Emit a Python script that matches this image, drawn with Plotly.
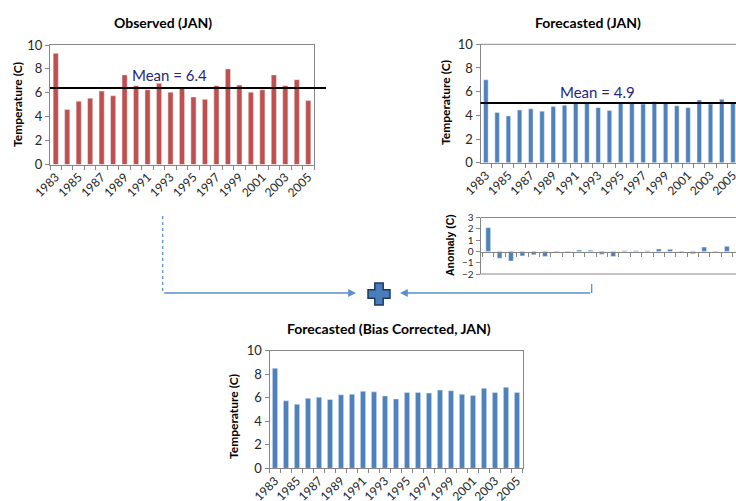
import plotly.graph_objects as go

W, H = 736, 501

years = list(range(1983, 2006))
tick_years = list(range(1983, 2006, 2))
tick_labels = [str(y) for y in tick_years]

observed = [9.3, 4.6, 5.3, 5.55, 6.15, 5.75, 7.5, 6.6, 6.25, 6.8, 6.05, 6.45,
            5.65, 5.45, 6.6, 8.0, 6.65, 6.05, 6.25, 7.5, 6.6, 7.1, 5.35]
forecast = [7.0, 4.25, 3.95, 4.45, 4.55, 4.35, 4.75, 4.85, 5.05, 5.0, 4.65, 4.4,
            5.0, 5.0, 4.95, 5.15, 5.1, 4.8, 4.65, 5.3, 4.95, 5.35, 5.0]
anomaly = [2.1, -0.6, -0.85, -0.4, -0.3, -0.45, -0.15, -0.05, 0.12, 0.1, -0.25, -0.45,
           0.05, 0.05, 0.05, 0.22, 0.18, -0.1, -0.2, 0.38, 0.03, 0.45, 0.1]
corrected = [8.5, 5.75, 5.45, 5.95, 6.05, 5.85, 6.25, 6.3, 6.55, 6.5, 6.15, 5.9,
             6.45, 6.45, 6.4, 6.65, 6.6, 6.3, 6.2, 6.8, 6.45, 6.9, 6.45]

obs_mean_line = 6.41
fc_mean_line = 5.05
obs_mean_label = "Mean = 6.4"
fc_mean_label = "Mean = 4.9"

RED = "#c0504d"
BLUE = "#4f81bd"
GRID = "#868686"
FONT = "Lato"


def px(x):
    return x / W


def py(y):
    return 1 - y / H


fig = go.Figure()

fig.add_trace(go.Bar(x=years, y=observed, marker_color=RED, width=0.45,
                     xaxis="x", yaxis="y", showlegend=False))
fig.add_trace(go.Bar(x=years, y=forecast, marker_color=BLUE, width=0.4,
                     xaxis="x2", yaxis="y2", showlegend=False))
fig.add_trace(go.Bar(x=years, y=anomaly, marker_color=BLUE, width=0.42,
                     xaxis="x3", yaxis="y3", showlegend=False))
fig.add_trace(go.Bar(x=years, y=corrected, marker_color=BLUE, width=0.48,
                     xaxis="x4", yaxis="y4", showlegend=False))

tickfont = dict(family=FONT, size=12, color="#262626")
ytickfont = dict(family=FONT, size=13, color="#262626")


def xax(domain, rng, labels=True, anchor=None, position=None, mirror=True):
    d = dict(domain=domain, range=rng, showgrid=False, zeroline=False,
             showline=True, linecolor=GRID, linewidth=1, mirror=mirror,
             tickmode="array", tickvals=tick_years if labels else [],
             ticktext=tick_labels if labels else [], ticks="", tickangle=-45,
             tickfont=tickfont, fixedrange=True, automargin=False,
             ticklabeloverflow="allow",
             minor=dict(ticks="outside", ticklen=4, tickcolor=GRID,
                        tick0=1982.5, dtick=1, showgrid=False))
    if anchor is not None:
        d["anchor"] = anchor
    if position is not None:
        d["anchor"] = "free"
        d["position"] = position
    return d


def yax(domain, rng, dtick, anchor, mirror=True, font=ytickfont):
    return dict(domain=domain, range=rng, dtick=dtick, tick0=0, showgrid=False,
                zeroline=False, showline=True, linecolor=GRID, linewidth=1,
                mirror=mirror, ticks="outside", ticklen=4, tickcolor=GRID,
                tickfont=font, anchor=anchor, fixedrange=True, automargin=False)


fig.update_layout(
    xaxis=xax([px(50), px(314)], [1982.5, 2005.5], anchor="y"),
    yaxis=yax([py(164.5), py(45)], [0, 10], 2, "x"),
    xaxis2=xax([px(480.5), 1.0], [1983 - 0.48, 1983 + 22.27], anchor="y2", mirror=False),
    yaxis2=yax([py(162.7), py(44.3)], [0, 10], 2, "x2", mirror=False),
    xaxis3=xax([px(480.5), 1.0], [1983 - 0.68, 1983 + 21.8], labels=False,
               position=py(251.5), mirror=False),
    yaxis3=yax([py(274), py(217.5)], [-2, 3], 1, "x3", mirror=False,
               font=dict(family=FONT, size=10, color="#262626")),
    xaxis4=xax([px(269.5), px(522.5)], [1982.5, 2005.5], anchor="y4"),
    yaxis4=yax([py(468.3), py(350.7)], [0, 10], 2, "x4"),
)

shapes = []
# top border of forecast chart
shapes.append(dict(type="line", xref="paper", yref="paper", x0=px(480.5), x1=1.0,
                   y0=py(44.3), y1=py(44.3), line=dict(color=GRID, width=1)))
# anomaly frame top & bottom
for yy in (217.5, 274):
    shapes.append(dict(type="line", xref="paper", yref="paper", x0=px(480.5), x1=1.0,
                       y0=py(yy), y1=py(yy), line=dict(color=GRID, width=1)))
# mean lines
shapes.append(dict(type="line", xref="paper", yref="y", x0=px(50), x1=px(326),
                   y0=obs_mean_line, y1=obs_mean_line, line=dict(color="black", width=2)))
shapes.append(dict(type="line", xref="paper", yref="y2", x0=px(480.5), x1=1.0,
                   y0=fc_mean_line, y1=fc_mean_line, line=dict(color="black", width=2)))

ARROW = "#5b8fd0"
# connector lines
shapes.append(dict(type="line", xref="paper", yref="paper", x0=px(162.7), x1=px(162.7),
                   y0=py(216), y1=py(293), line=dict(color=ARROW, width=1.3, dash="dot")))
shapes.append(dict(type="line", xref="paper", yref="paper", x0=px(591.7), x1=px(591.7),
                   y0=py(284), y1=py(293), line=dict(color=ARROW, width=1.3)))

# plus sign
cx, cy, a, t = 379, 294, 11, 4.2
pts = [(cx - t, cy - a), (cx + t, cy - a), (cx + t, cy - t), (cx + a, cy - t),
       (cx + a, cy + t), (cx + t, cy + t), (cx + t, cy + a), (cx - t, cy + a),
       (cx - t, cy + t), (cx - a, cy + t), (cx - a, cy - t), (cx - t, cy - t)]
path = "M " + " L ".join(f"{px(x):.5f},{py(y):.5f}" for x, y in pts) + " Z"
shapes.append(dict(type="path", xref="paper", yref="paper", path=path,
                   fillcolor="#4a7ebb", line=dict(color="#1f3a60", width=1.5)))

fig.update_layout(shapes=shapes)

ann = []
title_font = dict(family=FONT, size=14, color="black")
ann.append(dict(text="<b>Observed (JAN)</b>", x=px(163), y=py(22.5), xref="paper", yref="paper",
                showarrow=False, font=title_font, xanchor="center", yanchor="middle"))
ann.append(dict(text="<b>Forecasted (JAN)</b>", x=px(588), y=py(22.5), xref="paper", yref="paper",
                showarrow=False, font=title_font, xanchor="center", yanchor="middle"))
ann.append(dict(text="<b>Forecasted (Bias Corrected, JAN)</b>", x=px(389), y=py(328),
                xref="paper", yref="paper", showarrow=False, font=title_font,
                xanchor="center", yanchor="middle"))

ytitle_font = dict(family=FONT, size=12, color="black")
for x, y in ((17, 105), (445, 103), (233, 417)):
    ann.append(dict(text="<b>Temperature (C)</b>", x=px(x), y=py(y), xref="paper", yref="paper",
                    showarrow=False, font=ytitle_font, textangle=-90,
                    xanchor="center", yanchor="middle"))
ann.append(dict(text="<b>Anomaly (C)</b>", x=px(450), y=py(245), xref="paper", yref="paper",
                showarrow=False, font=dict(family="Liberation Sans", size=10.5, color="black"),
                textangle=-90, xanchor="center", yanchor="middle"))

mean_font = dict(family=FONT, size=15, color="#262680")
ann.append(dict(text=obs_mean_label, x=px(130), y=py(75), xref="paper", yref="paper",
                showarrow=False, font=mean_font, xanchor="left", yanchor="middle"))
ann.append(dict(text=fc_mean_label, x=px(557.5), y=py(92), xref="paper", yref="paper",
                showarrow=False, font=mean_font, xanchor="left", yanchor="middle"))

# arrows
ann.append(dict(text="", x=px(356), y=py(293), xref="paper", yref="paper", showarrow=True,
                ax=-193.3, ay=0, axref="pixel", ayref="pixel", arrowhead=2, arrowsize=1.2,
                arrowwidth=1.3, arrowcolor=ARROW))
ann.append(dict(text="", x=px(400), y=py(293), xref="paper", yref="paper", showarrow=True,
                ax=191.7, ay=0, axref="pixel", ayref="pixel", arrowhead=2, arrowsize=1.2,
                arrowwidth=1.3, arrowcolor=ARROW))

fig.update_layout(annotations=ann)

fig.update_layout(width=W, height=H, margin=dict(l=0, r=0, t=0, b=0),
                  paper_bgcolor="white", plot_bgcolor="white", bargap=0.5,
                  font=dict(family=FONT), showlegend=False)

fig.write_html("out.html", config={"displayModeBar": False})
